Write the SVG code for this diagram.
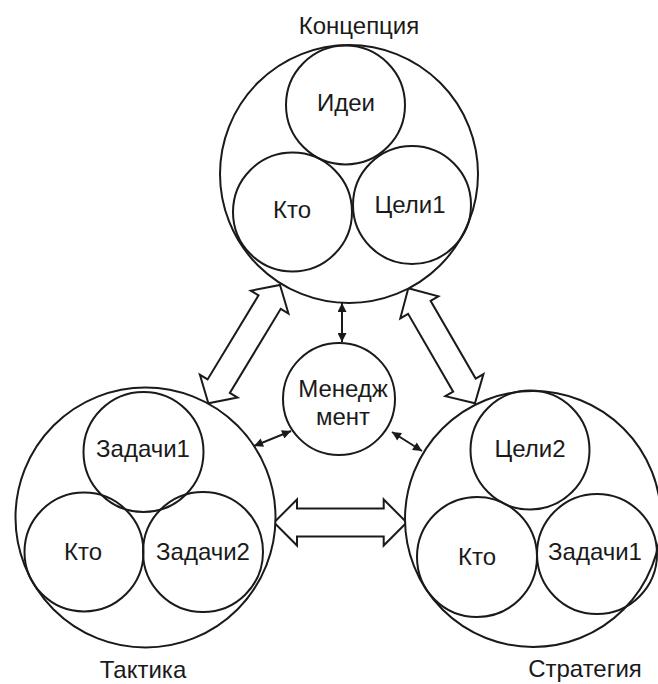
<svg xmlns="http://www.w3.org/2000/svg" width="658" height="684" viewBox="0 0 658 684">
<style>
.c{fill:none;stroke:#1a1a1a;stroke-width:2}
.w{fill:#fff;stroke:#1a1a1a;stroke-width:2}
.t{font-family:"Liberation Sans",Arial,sans-serif;font-size:24px;fill:#1a1a1a;text-anchor:middle}
.ln{stroke:#1a1a1a;stroke-width:2;fill:none;marker-start:url(#ah);marker-end:url(#ah)}
.ha{fill:#fff;stroke:#1a1a1a;stroke-width:2;stroke-linejoin:miter}
</style>
<defs>
<marker id="ah" viewBox="0 0 10 10" refX="10" refY="5" markerWidth="10" markerHeight="9" markerUnits="userSpaceOnUse" orient="auto-start-reverse">
<path d="M0,0 L10,5 L0,10 Z" fill="#1a1a1a"/>
</marker>
</defs>
<rect width="658" height="684" fill="#fff"/>

<g id="connectors">
<line class="ln" x1="342" y1="342" x2="342" y2="303"/>
<line class="ln" x1="291" y1="431" x2="254" y2="446"/>
<line class="ln" x1="392" y1="432" x2="422" y2="451"/>
<path class="ha" transform="translate(280,285) rotate(121.2)" d="M0,0 L20,-22 L20,-13 L118.3,-13 L118.3,-22 L138.3,0 L118.3,22 L118.3,13 L20,13 L20,22 Z"/>
<path class="ha" transform="translate(408.3,288.3) rotate(59.9)" d="M0,0 L22,-22 L22,-13 L111.9,-13 L111.9,-22 L132.9,0 L111.9,22 L111.9,13 L22,13 L22,22 Z"/>
<path class="ha" transform="translate(274,522.5)" d="M0,0 L23,-23 L23,-14 L109.7,-14 L109.7,-23 L132.7,0 L109.7,23 L109.7,14 L23,14 L23,23 Z"/>
</g>

<g id="koncepciya">
<circle class="w" cx="349" cy="174" r="129"/>
<text class="t" x="359" y="34">Концепция</text>
</g>
<g id="koncepciya-idei">
<circle class="c" cx="345.5" cy="105" r="59.5"/>
<text class="t" x="346" y="111">Идеи</text>
</g>
<g id="koncepciya-kto">
<circle class="c" cx="292.5" cy="212" r="59.5"/>
<text class="t" x="292" y="218">Кто</text>
</g>
<g id="koncepciya-celi1">
<circle class="c" cx="412" cy="205" r="59"/>
<text class="t" x="410" y="213">Цели1</text>
</g>

<g id="menedzhment">
<circle class="w" cx="339" cy="399" r="56"/>
<text class="t" x="343" y="397">Менедж</text>
<text class="t" x="343" y="425">мент</text>
</g>

<g id="taktika">
<circle class="w" cx="145.5" cy="517.5" r="130"/>
<text class="t" x="143" y="678">Тактика</text>
</g>
<g id="taktika-zadachi1">
<circle class="c" cx="143.5" cy="452" r="60"/>
<text class="t" x="143" y="457">Задачи1</text>
</g>
<g id="taktika-kto">
<circle class="c" cx="84" cy="552" r="59.5"/>
<text class="t" x="83" y="560">Кто</text>
</g>
<g id="taktika-zadachi2">
<circle class="c" cx="203" cy="552" r="60"/>
<text class="t" x="203" y="560">Задачи2</text>
</g>

<g id="strategiya">
<circle class="w" cx="533" cy="519" r="128"/>
<text class="t" x="585" y="677">Стратегия</text>
</g>
<g id="strategiya-celi2">
<circle class="c" cx="530" cy="450" r="59.5"/>
<text class="t" x="530" y="457">Цели2</text>
</g>
<g id="strategiya-kto">
<circle class="c" cx="477" cy="557" r="60"/>
<text class="t" x="477" y="565">Кто</text>
</g>
<g id="strategiya-zadachi1">
<circle class="c" cx="597" cy="554" r="60"/>
<text class="t" x="595" y="560">Задачи1</text>
</g>
</svg>
